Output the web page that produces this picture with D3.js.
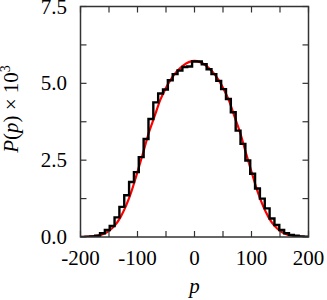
<!DOCTYPE html>
<html>
<head>
<meta charset="utf-8">
<title>P(p) histogram</title>
<style>
  body { margin: 0; background: #fff; }
  svg { display: block; }
  .tick-label { font-family: "Liberation Serif", "DejaVu Serif", serif; font-size: 21px; fill: #000; }
  .axis-title { font-family: "Liberation Serif", "DejaVu Serif", serif; font-size: 21px; fill: #000; }
  .frame { fill: none; stroke: #333; stroke-width: 1.5px; }
  .tick { stroke: #333; stroke-width: 1.2px; }
  .fit { fill: none; stroke: #ff0000; stroke-width: 2.2px; }
  .hist { fill: none; stroke: #000; stroke-width: 2.4px; stroke-linejoin: miter; }
</style>
</head>
<body>
<script src="https://d3js.org/d3.v7.min.js"></script>
<script>

var W = 327, H = 300;

// histogram bins (centres, width 8.5) and heights, P(p) x 10^3
var binWidth = 8.5;
var binCenters = [-195.5, -187, -178.5, -170, -161.5, -153, -144.5, -136, -127.5, -119, -110.5, -102, -93.5,
                  -85, -76.5, -68, -59.5, -51, -42.5, -34, -25.5, -17, -8.5, 0,
                  8.5, 17, 25.5, 34, 42.5, 51, 59.5, 68, 76.5, 85, 93.5, 102, 110.5,
                  119, 127.5, 136, 144.5, 153, 161.5, 170, 178.5, 187, 195.5];
var binValues = [0.00, 0.01, 0.02, 0.04, 0.12, 0.23, 0.36, 0.64, 0.98, 1.36, 1.79, 2.11, 2.60,
                 3.19, 3.84, 4.38, 4.67, 4.80, 5.10, 5.30, 5.42, 5.53, 5.55, 5.71,
                 5.71, 5.62, 5.46, 5.30, 5.08, 4.81, 4.49, 4.06, 3.46, 3.03, 2.49, 2.06, 1.58,
                 1.25, 0.93, 0.60, 0.39, 0.23, 0.12, 0.07, 0.04, 0.02, 0.01];

// smooth red curve
var curveP = [-200, -190, -180, -170, -160, -150, -140, -130, -120, -110, -100, -90, -80, -70, -60, -50, -40, -30, -20, -10,
              0, 10, 20, 30, 40, 50, 60, 70, 80, 90, 100, 110, 120, 130, 140, 150, 160, 170, 180, 190, 200];
var curveV = [0.0, 0.005, 0.018, 0.045, 0.10, 0.20, 0.37, 0.64, 1.02, 1.52, 2.12, 2.75, 3.40, 3.93, 4.46, 4.86, 5.17, 5.41, 5.58, 5.69,
              5.73, 5.69, 5.58, 5.41, 5.17, 4.86, 4.46, 3.93, 3.40, 2.75, 2.12, 1.52, 1.02, 0.64, 0.37, 0.20, 0.10, 0.045, 0.018, 0.005, 0.0];

var xLabelTicks = [-200, -100, 0, 100, 200];
var xMinorTicks = [-200, -150, -100, -50, 0, 50, 100, 150, 200];
var yLabelTicks = [0, 2.5, 5, 7.5];
var yMinorTicks = [0, 1.25, 2.5, 3.75, 5, 6.25, 7.5];

var svg = d3.select("body").append("svg").attr("width", W).attr("height", H);

var x = d3.scaleLinear().domain([-200, 200]).range([80.5, 308.5]);
var y = d3.scaleLinear().domain([0, 7.5]).range([237, 6.5]);

var x0 = x.range()[0], x1 = x.range()[1], y0 = y.range()[0], y1 = y.range()[1];

svg.append("clipPath").attr("id", "plotclip")
  .append("rect").attr("x", x0).attr("y", y1).attr("width", x1 - x0).attr("height", y0 - y1);

var plot = svg.append("g").attr("clip-path", "url(#plotclip)");

// red curve
var curvePts = curveP.map(function(p, i) { return [p, curveV[i]]; });
var curveLine = d3.line()
  .x(function(d) { return x(d[0]); })
  .y(function(d) { return y(d[1]); })
  .curve(d3.curveMonotoneX);
plot.append("path").attr("class", "fit").attr("d", curveLine(curvePts));

// histogram as step line
var stepPts = binCenters.map(function(c, i) { return [c - binWidth / 2, binValues[i]]; });
stepPts.push([binCenters[binCenters.length - 1] + binWidth / 2, binValues[binValues.length - 1]]);
var stepLine = d3.line()
  .x(function(d) { return x(d[0]); })
  .y(function(d) { return y(d[1]); })
  .curve(d3.curveStepAfter);
plot.append("path").attr("class", "hist").attr("d", stepLine(stepPts));

// ticks, inward on all four sides
var tl = 6;
xMinorTicks.forEach(function(t) {
  svg.append("line").attr("class", "tick").attr("x1", x(t)).attr("x2", x(t)).attr("y1", y0).attr("y2", y0 - tl);
  svg.append("line").attr("class", "tick").attr("x1", x(t)).attr("x2", x(t)).attr("y1", y1).attr("y2", y1 + tl);
});
yMinorTicks.forEach(function(t) {
  svg.append("line").attr("class", "tick").attr("x1", x0).attr("x2", x0 + tl).attr("y1", y(t)).attr("y2", y(t));
  svg.append("line").attr("class", "tick").attr("x1", x1).attr("x2", x1 - tl).attr("y1", y(t)).attr("y2", y(t));
});

svg.append("rect").attr("class", "frame")
  .attr("x", x0).attr("y", y1).attr("width", x1 - x0).attr("height", y0 - y1);

// tick labels
svg.selectAll(".xl").data(xLabelTicks).enter().append("text")
  .attr("class", "tick-label")
  .attr("x", function(d) { return x(d); })
  .attr("y", 265)
  .attr("text-anchor", "middle")
  .text(function(d) { return d; });

svg.selectAll(".yl").data(yLabelTicks).enter().append("text")
  .attr("class", "tick-label")
  .attr("x", 67)
  .attr("y", function(d) { return y(d) + 7; })
  .attr("text-anchor", "end")
  .text(function(d) { return d3.format(".1f")(d); });

// axis titles
svg.append("text").attr("class", "axis-title")
  .attr("x", x(0)).attr("y", 293)
  .attr("text-anchor", "middle")
  .style("font-style", "italic")
  .text("p");

var yt = svg.append("text").attr("class", "axis-title")
  .attr("transform", "translate(18,109) rotate(-90)")
  .attr("text-anchor", "middle");
yt.append("tspan").style("font-style", "italic").text("P");
yt.append("tspan").text("(");
yt.append("tspan").style("font-style", "italic").text("p");
yt.append("tspan").text(") \u00d7 10");
yt.append("tspan").attr("dy", -8).style("font-size", "14px").text("3");

</script>
</body>
</html>
